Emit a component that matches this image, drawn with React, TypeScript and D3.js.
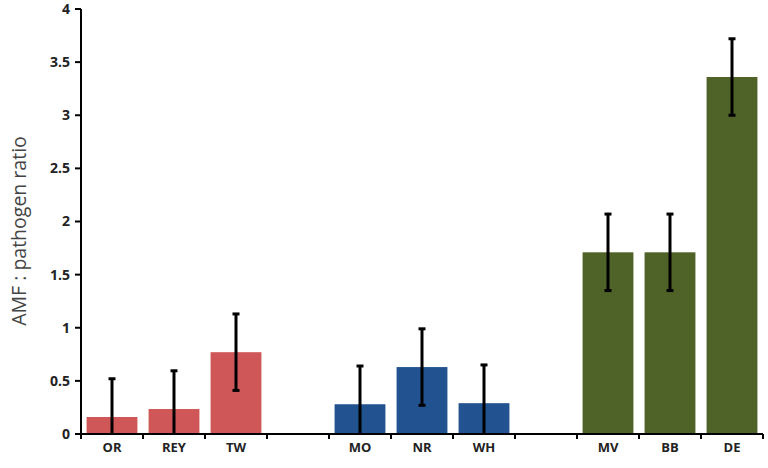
import { useEffect, useRef } from 'react';
import * as d3 from 'd3';

const categories = ['OR', 'REY', 'TW', '', 'MO', 'NR', 'WH', ' ', 'MV', 'BB', 'DE'];
const values = [0.16, 0.235, 0.77, null, 0.28, 0.63, 0.29, null, 1.71, 1.71, 3.36];
const errors = [0.36, 0.36, 0.36, null, 0.36, 0.36, 0.36, null, 0.36, 0.36, 0.36];
const groups = ['red', 'red', 'red', null, 'blue', 'blue', 'blue', null, 'green', 'green', 'green'];
const yTicks = [0, 0.5, 1, 1.5, 2, 2.5, 3, 3.5, 4];

const COLORS: Record<string, string> = {
  red: '#d05757',
  blue: '#22528f',
  green: '#4f6228',
};

const W = 768;
const H = 468;
const M = { top: 9, right: 5, bottom: 34, left: 81 };

export default function App() {
  const ref = useRef<SVGSVGElement>(null);

  useEffect(() => {
    if (!ref.current) return;
    const svg = d3.select(ref.current);
    svg.selectAll('*').remove();

    const x = d3
      .scaleBand<string>()
      .domain(categories)
      .range([M.left, W - M.right])
      .paddingInner(0.18)
      .paddingOuter(0.09);

    const y = d3.scaleLinear().domain([0, 4]).range([H - M.bottom, M.top]);

    // bars
    categories.forEach((c, i) => {
      const v = values[i];
      const g = groups[i];
      if (v == null || g == null) return;
      svg
        .append('rect')
        .attr('x', x(c)!)
        .attr('y', y(v))
        .attr('width', x.bandwidth())
        .attr('height', y(0) - y(v))
        .attr('fill', COLORS[g]);
    });

    // error bars
    categories.forEach((c, i) => {
      const v = values[i];
      const e = errors[i];
      if (v == null || e == null) return;
      const cx = x(c)! + x.bandwidth() / 2;
      const hi = v + e;
      const lo = Math.max(0, v - e);
      svg
        .append('line')
        .attr('x1', cx)
        .attr('x2', cx)
        .attr('y1', y(hi))
        .attr('y2', y(lo))
        .attr('stroke', '#000')
        .attr('stroke-width', 3);
      [hi, lo].forEach((b) => {
        if (b <= 0) return;
        svg
          .append('line')
          .attr('x1', cx - 3.5)
          .attr('x2', cx + 3.5)
          .attr('y1', y(b))
          .attr('y2', y(b))
          .attr('stroke', '#000')
          .attr('stroke-width', 3);
      });
    });

    // y axis
    svg
      .append('line')
      .attr('x1', M.left)
      .attr('x2', M.left)
      .attr('y1', y(4))
      .attr('y2', y(0))
      .attr('stroke', '#000')
      .attr('stroke-width', 2);

    yTicks.forEach((t) => {
      svg
        .append('line')
        .attr('x1', M.left - 6)
        .attr('x2', M.left)
        .attr('y1', y(t))
        .attr('y2', y(t))
        .attr('stroke', '#000')
        .attr('stroke-width', 2);
      svg
        .append('text')
        .attr('x', M.left - 11)
        .attr('y', y(t))
        .attr('dy', '0.35em')
        .attr('text-anchor', 'end')
        .attr('font-size', 14)
        .attr('font-weight', 'bold')
        .attr('fill', '#222')
        .text(String(t));
    });

    // x axis
    svg
      .append('line')
      .attr('x1', M.left)
      .attr('x2', W - M.right)
      .attr('y1', y(0))
      .attr('y2', y(0))
      .attr('stroke', '#000')
      .attr('stroke-width', 2);

    const step = x.step();
    d3.range(categories.length + 1).forEach((i) => {
      const tx = M.left + i * step;
      svg
        .append('line')
        .attr('x1', tx)
        .attr('x2', tx)
        .attr('y1', y(0))
        .attr('y2', y(0) + 5)
        .attr('stroke', '#000')
        .attr('stroke-width', 2);
    });

    categories.forEach((c) => {
      if (!c.trim()) return;
      svg
        .append('text')
        .attr('x', x(c)! + x.bandwidth() / 2)
        .attr('y', y(0) + 18)
        .attr('text-anchor', 'middle')
        .attr('font-size', 13)
        .attr('font-weight', 'bold')
        .attr('fill', '#222')
        .text(c);
    });

    // y title
    svg
      .append('text')
      .attr('transform', `translate(26,231) rotate(-90)`)
      .attr('text-anchor', 'middle')
      .attr('font-size', 19.5)
      .attr('fill', '#444')
      .text('AMF : pathogen ratio');
  }, []);

  return (
    <div style={{ position: 'absolute', left: 0, top: 0 }}>
      <svg
        ref={ref}
        width={W}
        height={H}
        style={{ display: 'block', fontFamily: '"Open Sans", "DejaVu Sans", sans-serif' }}
      />
    </div>
  );
}
